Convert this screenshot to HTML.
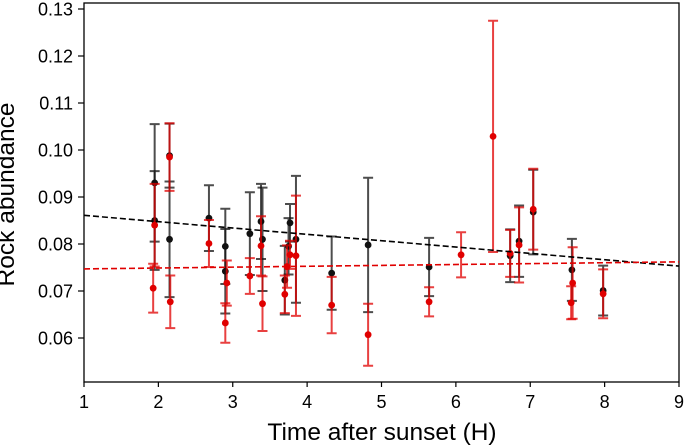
<!DOCTYPE html>
<html><head><meta charset="utf-8"><style>
body{margin:0;background:#fff;}
svg{display:block;font-family:"Liberation Sans",sans-serif;}
</style></head><body>
<svg id="chart" width="685" height="445"></svg>
<script>
const blackT=[1.95,1.95,2.15,2.15,2.68,2.90,2.90,3.23,3.38,3.40,3.70,3.75,3.77,3.85,4.33,4.82,5.64,6.73,6.85,7.04,7.56,7.98];
const blackV=[.0930,.0850,.0988,.0810,.0855,.0795,.0742,.0822,.0848,.0810,.0723,.0795,.0845,.0810,.0738,.0798,.0751,.0775,.0806,.0868,.0745,.0701];
const blackE=[.0125,.0105,.0068,.0123,.0070,.0080,.0090,.0088,.0080,.0110,.0073,.0060,.0040,.0135,.0078,.0143,.0062,.0056,.0076,.0090,.0066,.0053];
const redT=[1.95,1.93,2.15,2.16,2.68,2.92,2.90,3.23,3.38,3.40,3.70,3.73,3.77,3.85,4.33,4.82,5.64,6.07,6.50,6.73,6.85,7.04,7.57,7.55,7.98];
const redV=[.0840,.0706,.0985,.0677,.0801,.0717,.0632,.0732,.0796,.0673,.0693,.0752,.0777,.0775,.0670,.0607,.0677,.0777,.1029,.0780,.0798,.0874,.0717,.0675,.0694];
const redE=[.0088,.0052,.0072,.0056,.0050,.0048,.0042,.0038,.0063,.0058,.0040,.0045,.0030,.0128,.0060,.0066,.0031,.0048,.0246,.0050,.0080,.0086,.0076,.0035,.0052];
const blackFit=[.0861,.0753];
const redFit=[.0747,.0762];
const xTicks=[1,2,3,4,5,6,7,8,9];
const yTicks=[0.06,0.07,0.08,0.09,0.10,0.11,0.12,0.13];

const L=84,R=679,T=3,B=382;
const xs=t=>L+(t-1)/(9-1)*(R-L);
const ys=v=>338-(v-0.06)*4700;
const svg=document.getElementById('chart');
const NS='http://www.w3.org/2000/svg';
function mk(tag,attrs,parent){const e=document.createElementNS(NS,tag);for(const k in attrs)e.setAttribute(k,attrs[k]);(parent||svg).appendChild(e);return e;}

const frame=mk('rect',{x:L,y:T,width:R-L,height:B-T,fill:'none',stroke:'#000','stroke-width':1.3});



xTicks.forEach(t=>{
  const tk=mk('line',{x1:xs(t),x2:xs(t),y1:B,y2:B+5,stroke:'#000','stroke-width':1.2});
  
  
  const lb=mk('text',{x:xs(t),y:408,'text-anchor':'middle','font-size':18,fill:'#000'});
  lb.textContent=t;
  
  
});
yTicks.forEach(v=>{
  const tk=mk('line',{x1:L-6,x2:L,y1:ys(v),y2:ys(v),stroke:'#000','stroke-width':1.2});
  
  
  const lb=mk('text',{x:73,y:ys(v)+6.5,'text-anchor':'end','font-size':18,fill:'#000'});
  lb.textContent=v.toFixed(2);
  
  
});
const xt=mk('text',{x:382,y:440,'text-anchor':'middle','font-size':24.5,fill:'#000'});
xt.textContent='Time after sunset (H)';


const yt=mk('text',{x:0,y:0,'text-anchor':'middle','font-size':24.5,fill:'#000',transform:`translate(14,${(T+B)/2+2}) rotate(-90)`});
yt.textContent='Rock abundance';



function series(T_,V_,E_,col,name){
  const g=mk('g',{});
  
  
  T_.forEach((t,i)=>{
    const x=xs(t),y1=ys(V_[i]+E_[i]),y2=ys(V_[i]-E_[i]);
    const eb=mk('path',{d:`M${x},${y1}V${y2}M${x-5},${y1}H${x+5}M${x-5},${y2}H${x+5}`,stroke:col,'stroke-width':2,'stroke-opacity':0.75,fill:'none'},g);
    
    
    const c=mk('circle',{cx:x,cy:ys(V_[i]),r:3.4,fill:col},g);
    
    
  });
}
series(blackT,blackV,blackE,'#111','black');
series(redT,redV,redE,'#e00000','red');

const bl=mk('line',{x1:xs(1),y1:ys(blackFit[0]),x2:xs(9),y2:ys(blackFit[1]),stroke:'#000','stroke-width':1.6,'stroke-dasharray':'6,3'});


const rl=mk('line',{x1:xs(1),y1:ys(redFit[0]),x2:xs(9),y2:ys(redFit[1]),stroke:'#e00000','stroke-width':1.6,'stroke-dasharray':'6,3'});


</script>
</body></html>
